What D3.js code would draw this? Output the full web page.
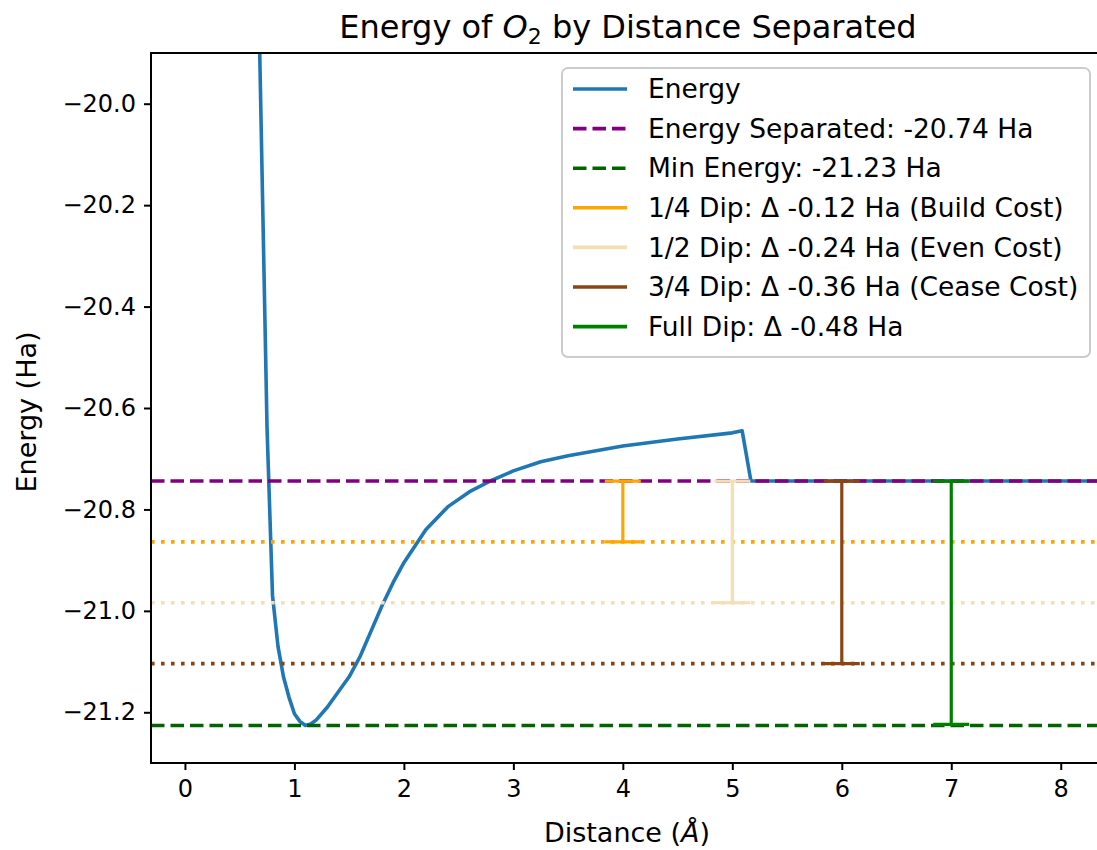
<!DOCTYPE html>
<html>
<head>
<meta charset="utf-8">
<script src="https://cdn.jsdelivr.net/npm/d3@7"></script>
<style>
  html, body { margin: 0; padding: 0; background: #fff; }
  svg { display: block; font-family: "DejaVu Sans", sans-serif; }
</style>
</head>
<body>
<svg id="chart" width="1097" height="850"></svg>
<script>
// ---------- data ----------
const distances = [0.62, 0.75, 0.80, 0.85, 0.90, 0.95, 1.00, 1.05, 1.10, 1.15, 1.20, 1.30, 1.40, 1.50, 1.60, 1.70, 1.80, 1.90, 2.00, 2.20, 2.40, 2.60, 2.80, 3.00, 3.25, 3.50, 4.00, 4.50, 5.00, 5.09, 5.17, 6.00, 7.00, 8.00, 8.60];
const energies  = [-19.20, -20.64, -20.97, -21.07, -21.13, -21.17, -21.203, -21.218, -21.226, -21.223, -21.215, -21.19, -21.16, -21.13, -21.09, -21.04, -20.99, -20.945, -20.905, -20.84, -20.795, -20.765, -20.743, -20.724, -20.706, -20.694, -20.675, -20.661, -20.649, -20.645, -20.744, -20.744, -20.744, -20.744, -20.744];

const energySeparated = -20.744;
const minEnergy = -21.226;

const dipNames   = ["1/4 Dip", "1/2 Dip", "3/4 Dip", "Full Dip"];
const dipDeltas  = [-0.12, -0.24, -0.36, -0.48];
const dipX       = [4, 5, 6, 7];
const dipNotes   = [" (Build Cost)", " (Even Cost)", " (Cease Cost)", ""];
const dipColors  = ["#FFA500", "#F5DEB3", "#8B4513", "#008000"];

const xTicks = [0, 1, 2, 3, 4, 5, 6, 7, 8];
const yTicks = [-20.0, -20.2, -20.4, -20.6, -20.8, -21.0, -21.2];

// ---------- layout ----------
const svg = d3.select("#chart");
const pL = 151, pR = 1110, pT = 53, pB = 763;

const x = d3.scaleLinear().domain([-0.31, 8.45]).range([pL, pR]);
const y = d3.scaleLinear().domain([-21.30, -19.90]).range([pB, pT]);

svg.append("defs").append("clipPath").attr("id", "clip")
  .append("rect").attr("x", pL).attr("y", pT).attr("width", pR - pL).attr("height", pB - pT);

const plot = svg.append("g").attr("clip-path", "url(#clip)");

// energy curve
const line = d3.line().x((d, i) => x(distances[i])).y((d, i) => y(energies[i]));
plot.append("path").datum(energies)
  .attr("d", line)
  .attr("fill", "none").attr("stroke", "#1f77b4").attr("stroke-width", 3.6)
  .attr("stroke-linejoin", "round");

// reference dashed lines
plot.append("line")
  .attr("x1", pL).attr("x2", pR).attr("y1", y(energySeparated)).attr("y2", y(energySeparated))
  .attr("stroke", "#800080").attr("stroke-width", 3.6).attr("stroke-dasharray", "13.5,6");
plot.append("line")
  .attr("x1", pL).attr("x2", pR).attr("y1", y(minEnergy)).attr("y2", y(minEnergy))
  .attr("stroke", "#006400").attr("stroke-width", 3.6).attr("stroke-dasharray", "13.5,6");

// dotted dip levels (first three)
dipDeltas.forEach((dd, i) => {
  if (i === 3) return;
  plot.append("line")
    .attr("x1", pL).attr("x2", pR)
    .attr("y1", y(energySeparated + dd)).attr("y2", y(energySeparated + dd))
    .attr("stroke", dipColors[i]).attr("stroke-width", 3.6)
    .attr("stroke-dasharray", "3.6,6.4");
});

// dip bars with caps
dipDeltas.forEach((dd, i) => {
  const g = plot.append("g").attr("stroke", dipColors[i]).attr("stroke-width", 3.2);
  const xc = x(dipX[i]);
  const y0 = y(energySeparated), y1 = y(energySeparated + dd);
  g.append("line").attr("x1", xc).attr("x2", xc).attr("y1", y0).attr("y2", y1);
  g.append("line").attr("x1", xc - 18).attr("x2", xc + 18).attr("y1", y0).attr("y2", y0);
  g.append("line").attr("x1", xc - 18).attr("x2", xc + 18).attr("y1", y1).attr("y2", y1);
});

// ---------- axes ----------
const xAxis = d3.axisBottom(x).tickValues(xTicks).tickFormat(d3.format("d")).tickSizeOuter(0).tickSize(7).tickPadding(10);
const yAxis = d3.axisLeft(y).tickValues(yTicks).tickFormat(d3.format(".1f")).tickSizeOuter(0).tickSize(7).tickPadding(8);

const gx = svg.append("g").attr("transform", `translate(0,${pB})`).call(xAxis);
const gy = svg.append("g").attr("transform", `translate(${pL},0)`).call(yAxis);
[gx, gy].forEach(g => {
  g.select(".domain").remove();
  g.selectAll(".tick line").attr("stroke", "#000").attr("stroke-width", 2);
  g.selectAll(".tick text").attr("font-size", 24).attr("fill", "#000").attr("font-family", "DejaVu Sans");
});

// spines
svg.append("path")
  .attr("d", `M${pR},${pT} H${pL} V${pB} H${pR}`)
  .attr("fill", "none").attr("stroke", "#000").attr("stroke-width", 2);

// ---------- titles ----------
const title = svg.append("text").attr("x", 628).attr("y", 38).attr("text-anchor", "middle")
  .attr("font-size", 32).attr("fill", "#000");
title.append("tspan").text("Energy of ");
title.append("tspan").attr("font-style", "italic").text("O");
title.append("tspan").attr("font-size", 22).attr("dy", 6).text("2");
title.append("tspan").attr("dy", -6).text(" by Distance Separated");

const xl = svg.append("text").attr("x", 627).attr("y", 842).attr("text-anchor", "middle")
  .attr("font-size", 27).attr("fill", "#000");
xl.append("tspan").text("Distance (");
xl.append("tspan").attr("font-style", "italic").text("Å");
xl.append("tspan").text(")");

svg.append("text").attr("transform", "translate(36,412) rotate(-90)").attr("text-anchor", "middle")
  .attr("font-size", 27).attr("fill", "#000").text("Energy (Ha)");

// ---------- legend ----------
const legendItems = [
  { label: "Energy", color: "#1f77b4", dash: null },
  { label: `Energy Separated: ${energySeparated.toFixed(2)} Ha`, color: "#800080", dash: "13.5,6" },
  { label: `Min Energy: ${minEnergy.toFixed(2)} Ha`, color: "#006400", dash: "13.5,6" }
].concat(dipNames.map((n, i) => ({
  label: `${n}: Δ ${dipDeltas[i].toFixed(2)} Ha${dipNotes[i]}`, color: dipColors[i], dash: null
})));

const lg = svg.append("g");
lg.append("rect").attr("x", 562).attr("y", 68).attr("width", 528).attr("height", 289).attr("rx", 6)
  .attr("fill", "#fff").attr("fill-opacity", 0.85).attr("stroke", "#cccccc").attr("stroke-width", 2);
legendItems.forEach((it, i) => {
  const cy = 89 + i * 39.6;
  lg.append("line").attr("x1", 573).attr("x2", 627).attr("y1", cy).attr("y2", cy)
    .attr("stroke", it.color).attr("stroke-width", 3.6)
    .attr("stroke-dasharray", it.dash);
  lg.append("text").attr("x", 648).attr("y", cy).attr("dy", "0.35em")
    .attr("font-size", 26.5).attr("fill", "#000").text(it.label);
});
</script>
</body>
</html>
